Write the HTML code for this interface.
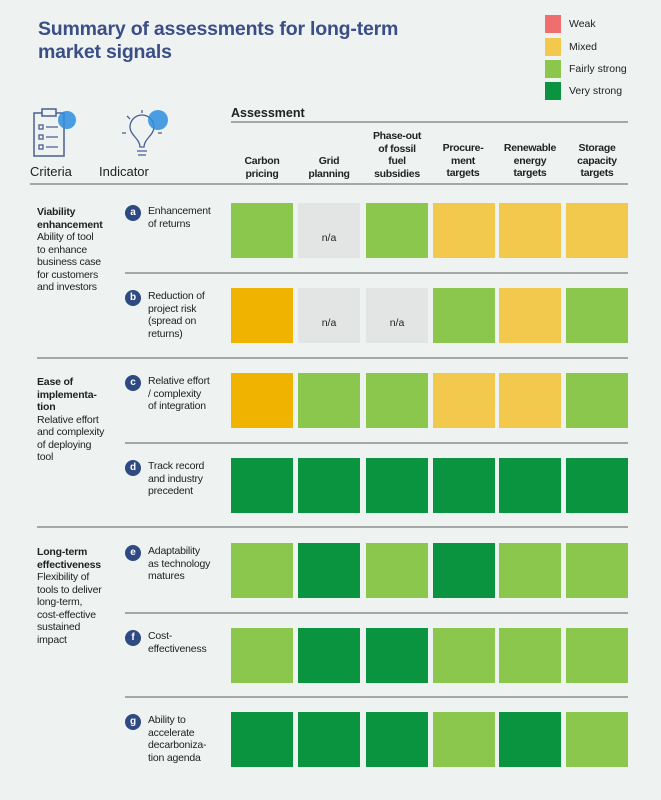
<!DOCTYPE html>
<html><head><meta charset="utf-8"><style>
body{margin:0;width:661px;height:800px;background:#eef2f1;font-family:"Liberation Sans",sans-serif;position:relative;overflow:hidden;color:#222}
.a{position:absolute}
.t{font-size:10.5px;line-height:12.5px;letter-spacing:-0.2px}
.h{font-size:10.5px;line-height:12.5px;font-weight:bold;text-align:center;width:66px;letter-spacing:-0.3px}
.c{position:absolute;width:62px;height:55px;font-size:10.5px;display:flex;align-items:center;justify-content:center;padding-top:14px;box-sizing:border-box}
.b{position:absolute;width:16px;height:16px;border-radius:50%;background:#2f4a82;color:#fff;font-size:10px;text-align:center;line-height:15px;font-weight:bold}
.ln{position:absolute;height:2px;background:#a3a7a6}
.lg{position:absolute;left:545px;width:16px;height:18px}
.lt{position:absolute;left:569px;font-size:10.5px}
</style></head><body>
<div class="a" style="left:38px;top:18px;font-size:19.5px;line-height:23px;font-weight:bold;color:#3b4e86;letter-spacing:-0.2px">Summary of assessments for long-term<br>market signals</div>
<div class="lg" style="top:15px;background:#ef6f6f"></div><div class="lt" style="top:18px">Weak</div>
<div class="lg" style="top:38px;background:#f2c94c"></div><div class="lt" style="top:41px">Mixed</div>
<div class="lg" style="top:60px;background:#8bc74d"></div><div class="lt" style="top:63px">Fairly strong</div>
<div class="lg" style="top:82px;background:#0a9440"></div><div class="lt" style="top:85px">Very strong</div>

<svg class="a" style="left:30px;top:105px" width="140" height="55">
<rect x="4" y="8" width="30" height="43" fill="none" stroke="#4a5f94" stroke-width="1.5"/>
<rect x="12" y="4" width="14" height="7" fill="#eef2f1" stroke="#4a5f94" stroke-width="1.5"/>
<g stroke="#4a5f94" stroke-width="1.3" fill="none"><rect x="9" y="20" width="4" height="4"/><rect x="9" y="30" width="4" height="4"/><rect x="9" y="40" width="4" height="4"/><path d="M16 22h12M16 32h12M16 42h12"/></g>
<circle cx="37" cy="15" r="9" fill="#2e8ee0" opacity="0.85"/>
<g stroke="#4a5f94" stroke-width="1.3" fill="none"><path d="M110 42c0-8-10-12-10-20a12 12 0 0 1 24 0c0 8-10 12-10 20z"/><path d="M107 46h10M108 50h8M96 28h-4M132 28h-4M100 14l-3-3M112 8v-3"/></g>
<circle cx="128" cy="15" r="10" fill="#2e8ee0" opacity="0.85"/>
</svg>
<div class="a" style="left:30px;top:164px;font-size:13px">Criteria</div>
<div class="a" style="left:99px;top:164px;font-size:13px">Indicator</div>
<div class="a" style="left:231px;top:106px;font-size:12.5px;font-weight:bold">Assessment</div>
<div class="ln" style="left:231px;top:121px;width:397px"></div>
<div class="ln" style="left:30px;top:183px;width:598px"></div>

<div class="a h" style="left:229px;top:155px">Carbon<br>pricing</div>
<div class="a h" style="left:296px;top:155px">Grid<br>planning</div>
<div class="a h" style="left:364px;top:130px">Phase-out<br>of fossil<br>fuel<br>subsidies</div>
<div class="a h" style="left:430px;top:142px">Procure-<br>ment<br>targets</div>
<div class="a h" style="left:497px;top:142px">Renewable<br>energy<br>targets</div>
<div class="a h" style="left:564px;top:142px">Storage<br>capacity<br>targets</div>

<div class="a t" style="left:37px;top:206px"><b>Viability<br>enhancement</b><br>Ability of tool<br>to enhance<br>business case<br>for customers<br>and investors</div>
<div class="a t" style="left:37px;top:376px"><b>Ease of<br>implementa-<br>tion</b><br>Relative effort<br>and complexity<br>of deploying<br>tool</div>
<div class="a t" style="left:37px;top:546px"><b>Long-term<br>effectiveness</b><br>Flexibility of<br>tools to deliver<br>long-term,<br>cost-effective<br>sustained<br>impact</div>

<div class="ln" style="left:37px;top:357px;width:591px"></div>
<div class="ln" style="left:37px;top:526px;width:591px"></div>
<div class="ln" style="left:125px;top:272px;width:503px"></div>
<div class="ln" style="left:125px;top:442px;width:503px"></div>
<div class="ln" style="left:125px;top:612px;width:503px"></div>
<div class="ln" style="left:125px;top:696px;width:503px"></div>

<div id="g"></div>
<script>
var rows=[["a","Enhancement<br>of returns",203,"FNFMMM"],["b","Reduction of<br>project risk<br>(spread on<br>returns)",288,"ONNFMF"],["c","Relative effort<br>/ complexity<br>of integration",373,"OFFMMF"],["d","Track record<br>and industry<br>precedent",458,"VVVVVV"],["e","Adaptability<br>as technology<br>matures",543,"FVFVFF"],["f","Cost-<br>effectiveness",628,"FVVFFF"],["g","Ability to<br>accelerate<br>decarboniza-<br>tion agenda",712,"VVVFVF"]];
var col={F:"#8bc74d",V:"#0a9440",M:"#f2c94c",O:"#f0b400",N:"#e2e5e4"};
var xs=[231,298,366,433,499,566],h="";
rows.forEach(function(r){
h+='<div class="b" style="left:125px;top:'+(r[2]+2)+'px">'+r[0]+'</div>';
h+='<div class="a t" style="left:148px;top:'+(r[2]+2)+'px">'+r[1]+'</div>';
for(var i=0;i<6;i++){var k=r[3][i];h+='<div class="c" style="left:'+xs[i]+'px;top:'+r[2]+'px;background:'+col[k]+'">'+(k=="N"?"n/a":"")+'</div>';}
});
document.getElementById("g").innerHTML=h;
</script>
</body></html>
